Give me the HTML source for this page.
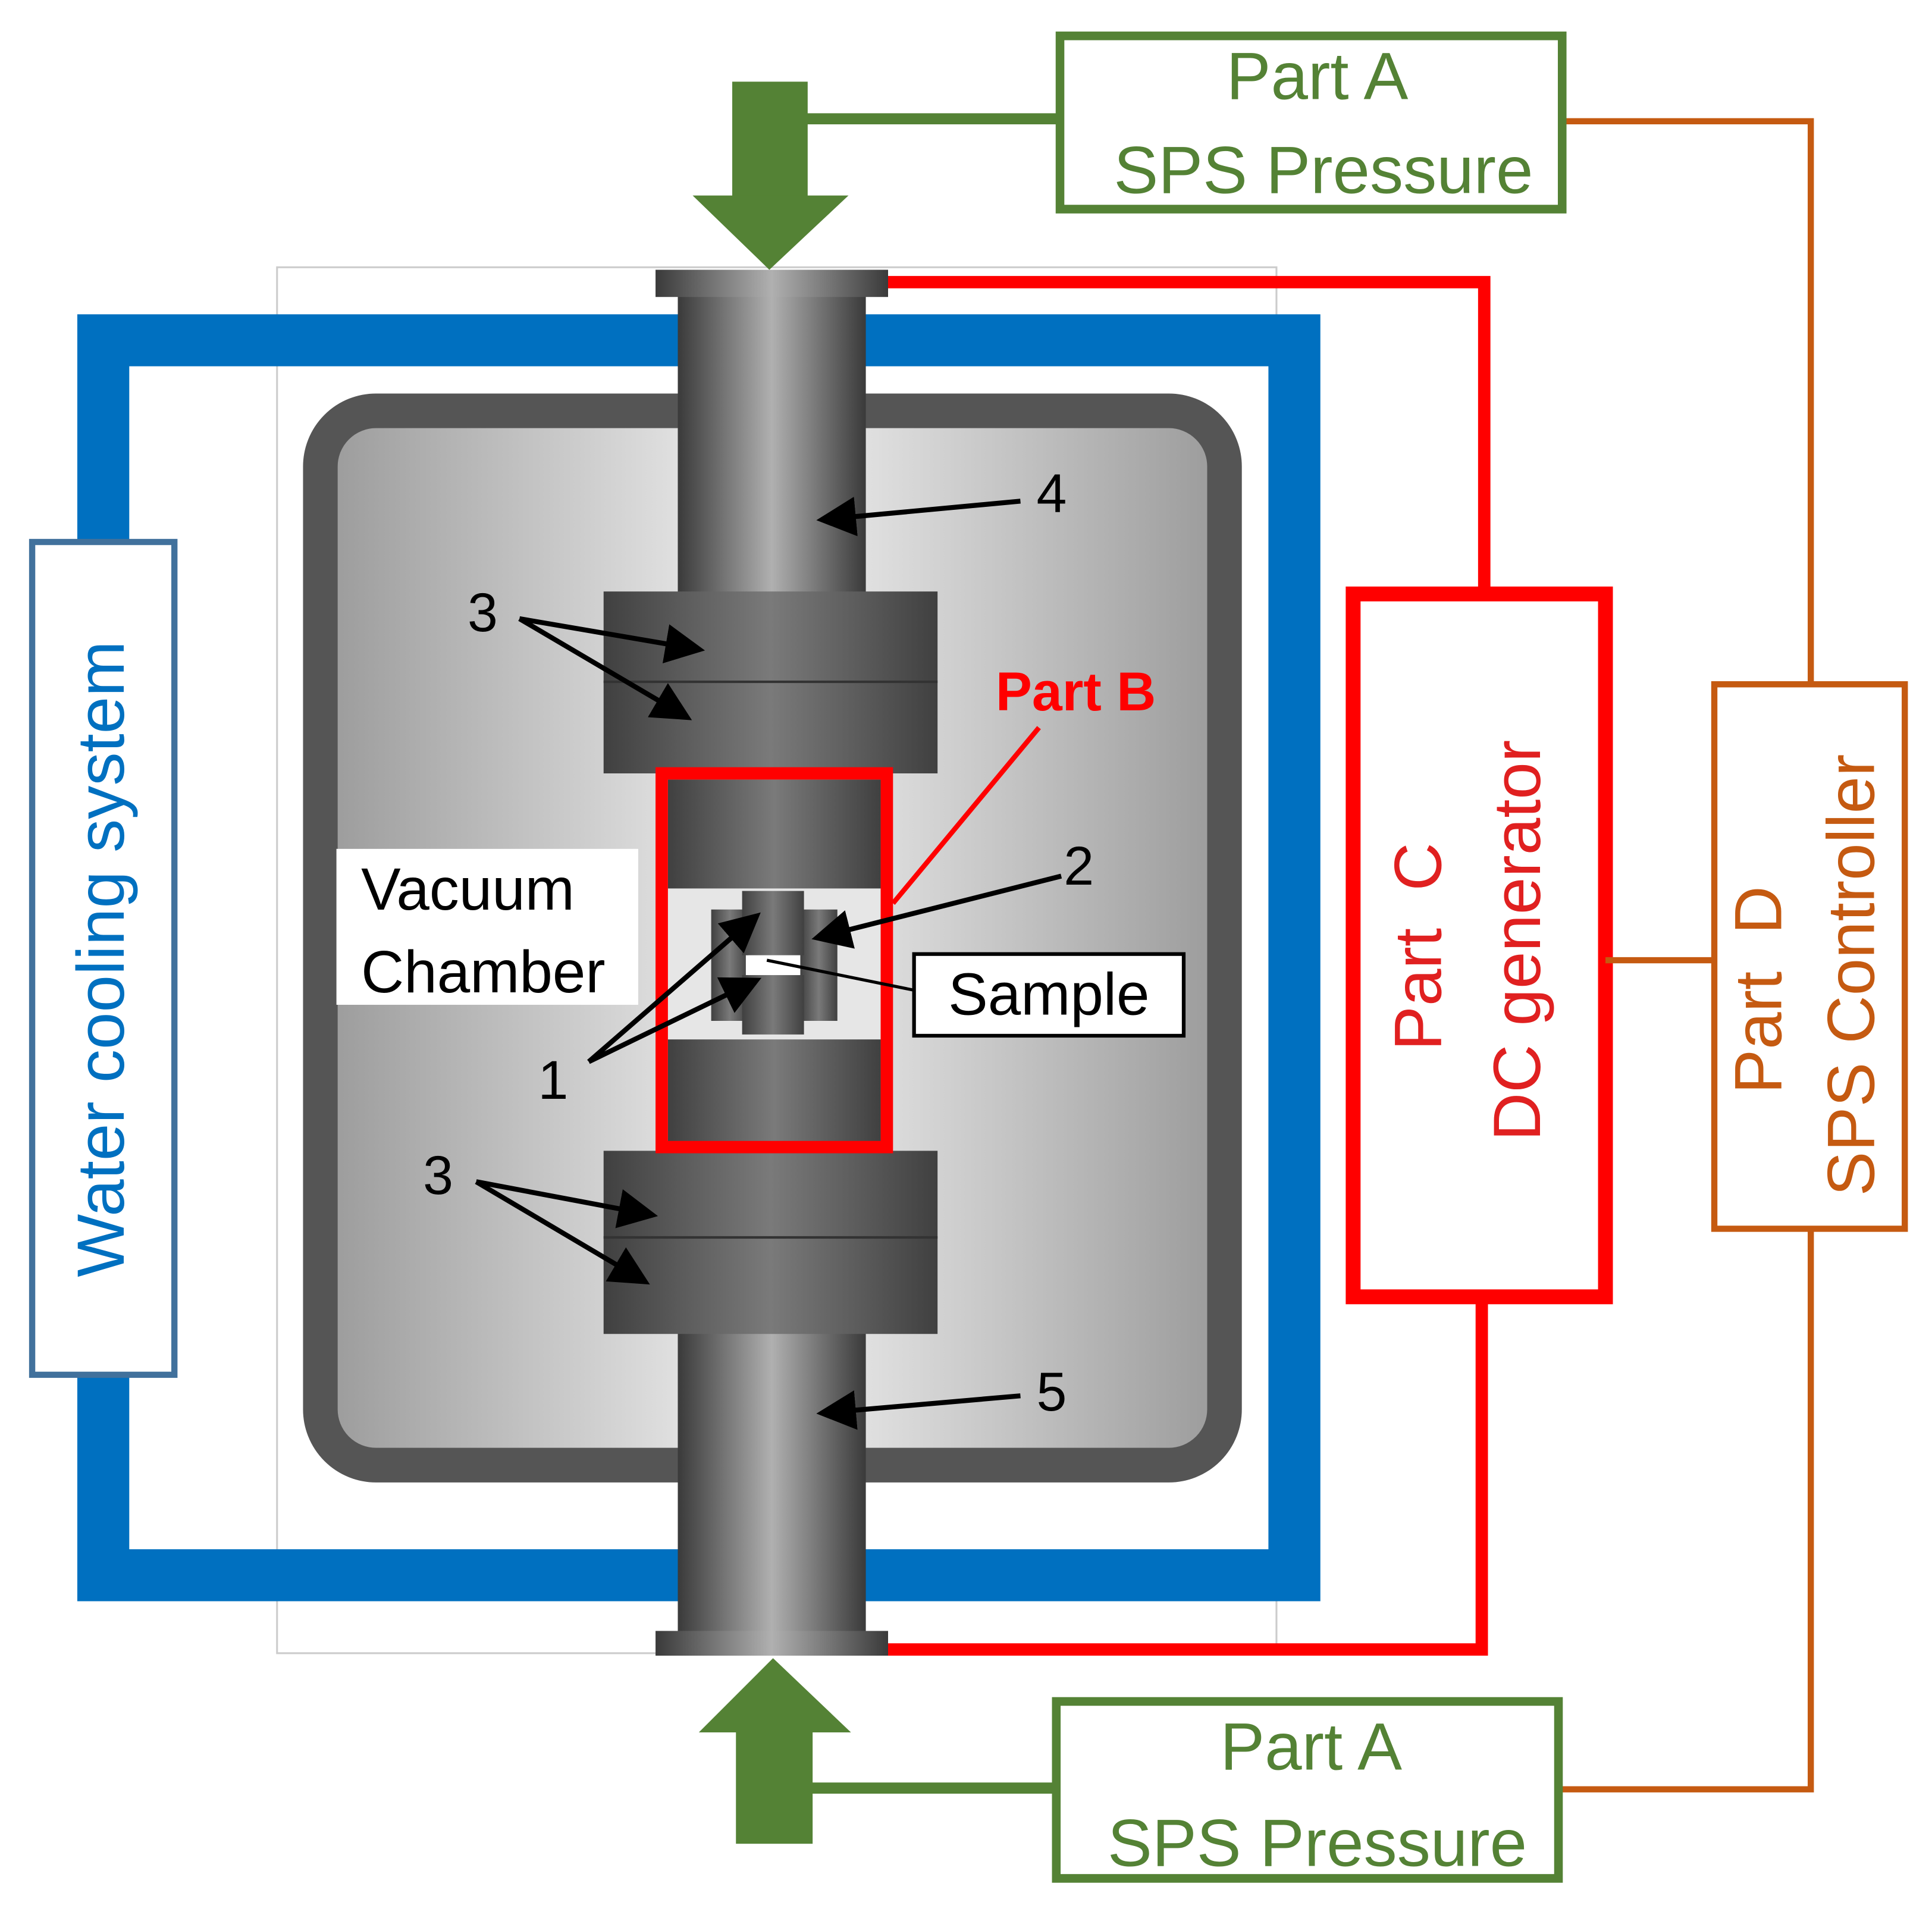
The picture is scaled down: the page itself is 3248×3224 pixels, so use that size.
<!DOCTYPE html>
<html><head><meta charset="utf-8"><style>html,body{margin:0;padding:0;background:#fff}svg{display:block}</style></head>
<body>
<svg width="3248" height="3224" viewBox="0 0 1562 1550" preserveAspectRatio="none" xmlns="http://www.w3.org/2000/svg" font-family="Liberation Sans, sans-serif">
<defs>
<linearGradient id="rod" x1="0" x2="1" y1="0" y2="0">
<stop offset="0" stop-color="#3a3a3a"/><stop offset="0.5" stop-color="#b0b0b0"/><stop offset="1" stop-color="#3a3a3a"/></linearGradient>
<linearGradient id="blk" x1="0" x2="1" y1="0" y2="0">
<stop offset="0" stop-color="#404040"/><stop offset="0.5" stop-color="#7a7a7a"/><stop offset="1" stop-color="#404040"/></linearGradient>
<linearGradient id="ch" x1="0" x2="1" y1="0" y2="0">
<stop offset="0" stop-color="#9a9a9a"/><stop offset="0.5" stop-color="#f2f2f2"/><stop offset="1" stop-color="#9a9a9a"/></linearGradient>
<marker id="ah" markerWidth="8" markerHeight="8" refX="7" refY="4" orient="auto" markerUnits="strokeWidth"><path d="M0,0 L8,4 L0,8 z" fill="#000"/></marker>
</defs>
<rect x="224" y="216" width="808" height="1120" fill="#fff" stroke="#ccc" stroke-width="1.5"/>
<!-- blue loop -->
<rect x="83.5" y="275" width="963" height="998" fill="none" stroke="#0070c0" stroke-width="42"/>
<!-- water cooling box -->
<rect x="26" y="438" width="115" height="673" fill="#fff" stroke="#41719c" stroke-width="5"/>
<text transform="translate(100,775) rotate(-90)" text-anchor="middle" font-size="54" fill="#0070c0">Water cooling system</text>
<!-- chamber -->
<rect x="259" y="332" width="731" height="852" rx="45" fill="url(#ch)" stroke="#555" stroke-width="28"/>
<!-- rods -->
<rect x="548" y="232" width="152" height="250" fill="url(#rod)"/>
<rect x="548" y="1075" width="152" height="245" fill="url(#rod)"/>
<rect x="530" y="218" width="188" height="22" fill="url(#rod)"/>
<rect x="530" y="1318" width="188" height="20" fill="url(#rod)"/>
<!-- spacers -->
<rect x="488" y="478" width="270" height="147" fill="url(#blk)"/>
<line x1="488" y1="551" x2="758" y2="551" stroke="#333" stroke-width="2"/>
<rect x="488" y="930" width="270" height="148" fill="url(#blk)"/>
<line x1="488" y1="1000" x2="758" y2="1000" stroke="#333" stroke-width="2"/>
<!-- part B -->
<rect x="535" y="625" width="182" height="302" fill="#e6e6e6"/>
<rect x="540" y="630" width="172" height="88" fill="url(#blk)"/>
<rect x="540" y="840" width="172" height="84" fill="url(#blk)"/>
<rect x="575" y="735" width="30" height="90" fill="url(#blk)"/>
<rect x="647" y="735" width="30" height="90" fill="url(#blk)"/>
<rect x="600" y="720" width="50" height="52" fill="url(#blk)"/>
<rect x="600" y="788" width="50" height="48" fill="url(#blk)"/>
<rect x="603" y="772" width="44" height="16" fill="#fff"/>
<rect x="535" y="625" width="182" height="302" fill="none" stroke="#f00" stroke-width="10"/>
<text x="805" y="574" font-size="44" font-weight="bold" fill="#f00">Part B</text>
<line x1="840" y1="588" x2="722" y2="730" stroke="#f00" stroke-width="4"/>
<!-- labels -->
<rect x="272" y="686" width="244" height="126" fill="#fff"/>
<text x="292" y="735" font-size="48" fill="#000">Vacuum</text>
<text x="292" y="802" font-size="48" fill="#000">Chamber</text>
<rect x="739" y="771" width="218" height="66" fill="#fff" stroke="#000" stroke-width="3"/>
<text x="848" y="820" text-anchor="middle" font-size="48" fill="#000">Sample</text>
<line x1="738" y1="800" x2="620" y2="776" stroke="#000" stroke-width="2.5"/>
<g stroke="#000" stroke-width="4" marker-end="url(#ah)" fill="none">
<line x1="825" y1="405" x2="664" y2="420"/>
<line x1="420" y1="500" x2="566" y2="525"/>
<line x1="420" y1="500" x2="556" y2="580"/>
<line x1="858" y1="708" x2="660" y2="758"/>
<line x1="476" y1="858" x2="612" y2="740"/>
<line x1="476" y1="858" x2="612" y2="792"/>
<line x1="385" y1="955" x2="528" y2="982"/>
<line x1="385" y1="955" x2="522" y2="1036"/>
<line x1="825" y1="1128" x2="664" y2="1142"/>
</g>
<g font-size="44" fill="#000">
<text x="838" y="414">4</text>
<text x="378" y="510">3</text>
<text x="860" y="715">2</text>
<text x="435" y="888">1</text>
<text x="342" y="965">3</text>
<text x="838" y="1140">5</text>
</g>
<!-- red circuit -->
<polyline points="718,228 1200,228 1200,480" fill="none" stroke="#f00" stroke-width="10"/>
<polyline points="1198,1048 1198,1333 718,1333" fill="none" stroke="#f00" stroke-width="10"/>
<rect x="1094" y="480" width="204" height="568" fill="#fff" stroke="#f00" stroke-width="12"/>
<text transform="translate(1165,765) rotate(-90)" text-anchor="middle" font-size="54" fill="#e02020" xml:space="preserve">Part  C</text>
<text transform="translate(1245,760) rotate(-90)" text-anchor="middle" font-size="54" fill="#e02020">DC generator</text>
<!-- orange -->
<polyline points="1265,98 1464,98 1464,553" fill="none" stroke="#c55a11" stroke-width="5"/>
<polyline points="1464,993 1464,1446 1262,1446" fill="none" stroke="#c55a11" stroke-width="5"/>
<line x1="1298" y1="776" x2="1386" y2="776" stroke="#c55a11" stroke-width="5"/>
<rect x="1386" y="553" width="154" height="440" fill="#fff" stroke="#c55a11" stroke-width="5"/>
<text transform="translate(1440,800) rotate(-90)" text-anchor="middle" font-size="54" fill="#c55a11" xml:space="preserve">Part  D</text>
<text transform="translate(1515,788) rotate(-90)" text-anchor="middle" font-size="54" fill="#c55a11">SPS Controller</text>
<!-- green top -->
<line x1="652" y1="96" x2="857" y2="96" stroke="#548235" stroke-width="9"/>
<rect x="592" y="66" width="61" height="94" fill="#548235"/>
<polygon points="560,158 686,158 622,218" fill="#548235"/>
<rect x="857" y="29" width="406" height="140" fill="#fff" stroke="#548235" stroke-width="7"/>
<text x="1065" y="80" text-anchor="middle" font-size="54" fill="#548235">Part A</text>
<text x="1070" y="156" text-anchor="middle" font-size="54" fill="#548235">SPS Pressure</text>
<!-- green bottom -->
<line x1="655" y1="1445" x2="854" y2="1445" stroke="#548235" stroke-width="9"/>
<rect x="595" y="1398" width="62" height="92" fill="#548235"/>
<polygon points="565,1400 688,1400 625,1340" fill="#548235"/>
<rect x="854" y="1375" width="406" height="143" fill="#fff" stroke="#548235" stroke-width="7"/>
<text x="1060" y="1430" text-anchor="middle" font-size="54" fill="#548235">Part A</text>
<text x="1065" y="1508" text-anchor="middle" font-size="54" fill="#548235">SPS Pressure</text>
</svg>
</body></html>
